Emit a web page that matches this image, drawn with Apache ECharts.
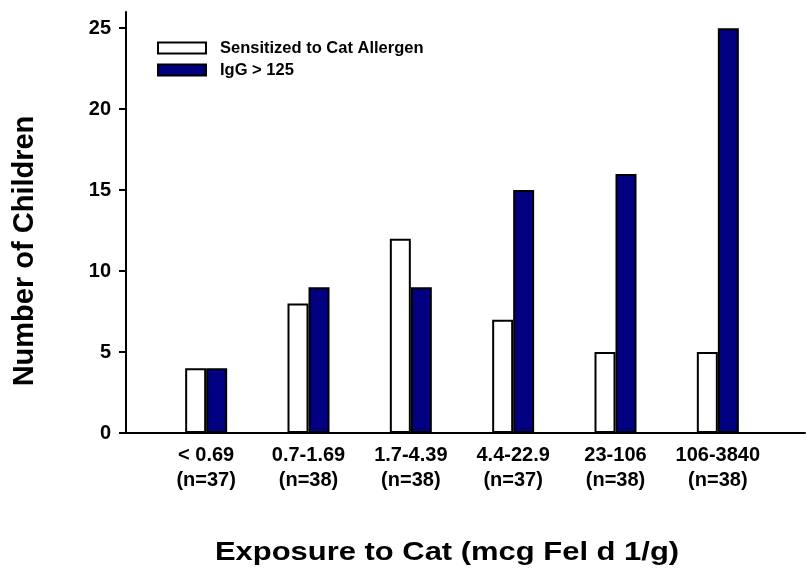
<!DOCTYPE html>
<html>
<head>
<meta charset="utf-8">
<script src="https://cdn.jsdelivr.net/npm/echarts@6/dist/echarts.min.js"></script>
<style>html,body{margin:0;padding:0;background:#fff}#c{width:806px;height:574px}</style>
</head>
<body>
<div id="c"></div>
<script>
var categories = ['< 0.69\n(n=37)', '0.7-1.69\n(n=38)', '1.7-4.39\n(n=38)', '4.4-22.9\n(n=37)', '23-106\n(n=38)', '106-3840\n(n=38)'];
var sensitized = [4, 8, 12, 7, 5, 5];
var igg = [4, 9, 9, 15, 16, 25];
var yTicks = [0, 5, 10, 15, 20, 25];
var seriesNames = ['Sensitized to Cat Allergen', 'IgG > 125'];
var xTitle = 'Exposure to Cat (mcg Fel d 1/g)';
var yTitle = 'Number of Children';

var FONT = 'Liberation Sans, Arial, sans-serif';
var chart = echarts.init(document.getElementById('c'), null, {renderer: 'canvas'});
var gridTop = 12, gridBottom = 574 - 433;
chart.setOption({
  animation: false,
  backgroundColor: '#fff',
  grid: [
    {left: 126, right: 1, top: gridTop, bottom: gridBottom},
    {left: 155, right: 37, top: gridTop, bottom: gridBottom}
  ],
  legend: {
    left: 157, top: 37, orient: 'vertical', icon: 'rect', itemWidth: 48, itemHeight: 11, itemGap: 0, padding: 0,
    textStyle: {fontFamily: FONT, fontWeight: 'bold', fontSize: 16.5, lineHeight: 22, color: '#000', padding: [0, 0, 0, 9]},
    data: seriesNames
  },
  xAxis: [
    {gridIndex: 0, type: 'value', min: 0, max: 1, axisLine: {show: true, lineStyle: {color: '#000', width: 2}}, axisTick: {show: false}, axisLabel: {show: false}, splitLine: {show: false}},
    {gridIndex: 1, type: 'category', data: categories, axisLine: {show: false}, axisTick: {show: false},
      axisLabel: {interval: 0, hideOverlap: false, fontFamily: FONT, fontWeight: 'bold', fontSize: 20, color: '#000', lineHeight: 25, margin: 10}}
  ],
  yAxis: [
    {gridIndex: 0, type: 'value', min: 0, max: 26, axisLine: {show: true, lineStyle: {color: '#000', width: 2}},
      axisTick: {show: true, length: 7, customValues: yTicks, lineStyle: {color: '#000', width: 2}},
      axisLabel: {customValues: yTicks, fontFamily: FONT, fontWeight: 'bold', fontSize: 20, color: '#000', margin: 15},
      splitLine: {show: false}},
    {gridIndex: 1, type: 'value', min: 0, max: 26, show: false, splitLine: {show: false}}
  ],
  series: [
    {name: seriesNames[0], type: 'bar', xAxisIndex: 1, yAxisIndex: 1, data: sensitized, barWidth: 21, barGap: '0%',
      itemStyle: {color: '#fff', borderColor: '#000', borderWidth: 2}},
    {name: seriesNames[1], type: 'bar', xAxisIndex: 1, yAxisIndex: 1, data: igg, barWidth: 21, barGap: '0%',
      itemStyle: {color: '#000080', borderColor: '#000', borderWidth: 2}}
  ],
  graphic: [
    {type: 'text', x: 447, y: 553, scaleX: 1.19, style: {text: xTitle, font: 'bold 26px ' + FONT, fill: '#000', align: 'center', verticalAlign: 'middle'}},
    {type: 'text', x: 25, y: 251, rotation: Math.PI / 2, style: {text: yTitle, font: 'bold 29px ' + FONT, fill: '#000', align: 'center', verticalAlign: 'middle'}}
  ]
});
</script>
</body>
</html>
